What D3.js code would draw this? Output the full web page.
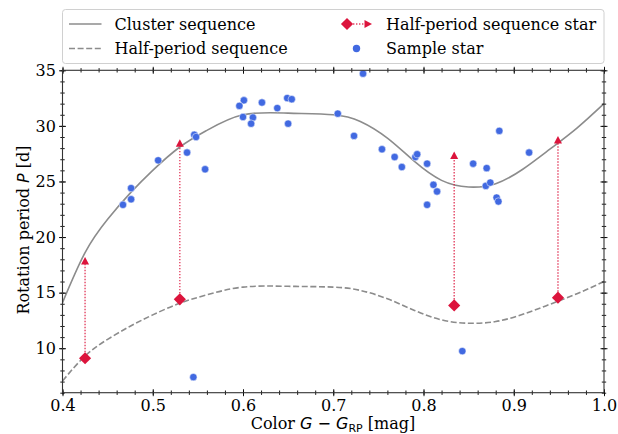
<!DOCTYPE html>
<html>
<head>
<meta charset="utf-8">
<title>Rotation period vs colour</title>
<style>
body { margin: 0; background: #fff; }
text { font-family: "DejaVu Serif", serif; fill: #000; }
.math { font-family: "DejaVu Sans", sans-serif; }
</style>
</head>
<body>
<script src="https://d3js.org/d3.v7.min.js"></script>
<script>
// cluster sequence and its half-period twin
var seqColor = [0.40, 0.425, 0.45, 0.475, 0.50, 0.53, 0.56, 0.60, 0.65, 0.70, 0.73, 0.76, 0.79, 0.82, 0.85, 0.88, 0.91, 0.94, 0.97, 1.00];
var seqPeriod = [14.1, 18.6, 21.6, 23.95, 26.0, 28.1, 29.6, 31.0, 31.15, 31.0, 30.4, 28.9, 26.8, 25.1, 24.5, 24.8, 26.1, 27.9, 29.8, 32.0];
var halfPeriod = [7.05, 9.3, 10.8, 11.98, 13.0, 14.05, 14.8, 15.5, 15.57, 15.5, 15.2, 14.45, 13.4, 12.55, 12.25, 12.4, 13.05, 13.95, 14.9, 16.0];

// half-period sequence stars: measured period and doubled period (arrow tip)
var hpColor = [0.425, 0.530, 0.834, 0.949];
var hpPeriod = [9.1, 14.4, 13.85, 14.55];
var hpDoubled = [18.2, 28.8, 27.7, 29.1];

// sample stars
var starColor = [0.546, 0.548, 0.538, 0.506, 0.558, 0.476, 0.476, 0.467,
  0.733, 0.601, 0.596, 0.621, 0.649, 0.654, 0.638, 0.600, 0.611, 0.609, 0.650, 0.705, 0.723,
  0.884, 0.754, 0.768, 0.776, 0.791, 0.793, 0.804, 0.811, 0.815, 0.804, 0.855, 0.870, 0.869,
  0.874, 0.881, 0.883, 0.917, 0.843, 0.545];
var starPeriod = [29.2, 29.0, 27.6, 26.9, 26.1, 24.4, 23.4, 22.9,
  34.7, 32.3, 31.8, 32.1, 32.5, 32.4, 31.6, 30.8, 30.75, 30.2, 30.2, 31.1, 29.1,
  29.55, 27.9, 27.2, 26.3, 27.2, 27.45, 26.6, 24.7, 24.1, 22.9, 26.6, 26.2, 24.6,
  24.9, 23.55, 23.2, 27.6, 9.74, 7.4];

var xMajor = [0.4, 0.5, 0.6, 0.7, 0.8, 0.9, 1.0];
var yMajor = [10, 15, 20, 25, 30, 35];

var width = 618, height = 434;
var pLeft = 62.5, pRight = 604, pTop = 70.3, pBottom = 392.7;
var red = "#dc143c", blue = "#4169e1", grey = "#8c8c8c";
var fs = "16px";

var x = d3.scaleLinear().domain([0.4, 1.0]).range([pLeft, pRight]);
var y = d3.scaleLinear().domain([6, 35]).range([pBottom, pTop]);

var svg = d3.select("body").append("svg")
  .attr("width", width)
  .attr("height", height);

svg.append("clipPath").attr("id", "clip")
  .append("rect")
  .attr("x", pLeft).attr("y", pTop)
  .attr("width", pRight - pLeft).attr("height", pBottom - pTop);

var plot = svg.append("g").attr("clip-path", "url(#clip)");

var line = d3.line().curve(d3.curveNatural);

plot.append("path")
  .attr("d", line(seqColor.map(function(c, i) { return [x(c), y(seqPeriod[i])]; })))
  .attr("fill", "none").attr("stroke", grey).attr("stroke-width", 1.6);

plot.append("path")
  .attr("d", line(seqColor.map(function(c, i) { return [x(c), y(halfPeriod[i])]; })))
  .attr("fill", "none").attr("stroke", grey).attr("stroke-width", 1.6)
  .attr("stroke-dasharray", "6,2.6");

// arrows from half-period stars up to the doubled period
hpColor.forEach(function(c, i) {
  var px = x(c), tip = y(hpDoubled[i]);
  plot.append("line")
    .attr("x1", px).attr("x2", px)
    .attr("y1", y(hpPeriod[i])).attr("y2", tip + 6)
    .attr("stroke", red).attr("stroke-opacity", 0.8)
    .attr("stroke-width", 1.4).attr("stroke-dasharray", "1.4,1.6");
  plot.append("path")
    .attr("d", "M" + px + "," + tip + "L" + (px + 4) + "," + (tip + 7.5) + "L" + (px - 4) + "," + (tip + 7.5) + "Z")
    .attr("fill", red);
});

plot.selectAll(".star")
  .data(starColor)
  .enter().append("circle")
  .attr("class", "star")
  .attr("cx", function(d) { return x(d); })
  .attr("cy", function(d, i) { return y(starPeriod[i]); })
  .attr("r", 3.7)
  .attr("fill", blue)
  .attr("stroke", "#fff").attr("stroke-width", 0.5);

plot.selectAll(".hp")
  .data(hpColor)
  .enter().append("path")
  .attr("class", "hp")
  .attr("d", d3.symbol().type(d3.symbolSquare).size(74))
  .attr("transform", function(d, i) { return "translate(" + x(d) + "," + y(hpPeriod[i]) + ") rotate(45)"; })
  .attr("fill", red);

// axes, ticks poking both in and out
function styleTicks(g, inner, outer, attr, dir) {
  g.select(".domain").remove();
  g.selectAll(".tick line").attr(attr + "1", -inner * dir).attr(attr + "2", outer * dir);
}
var xMinor = d3.range(0.4, 1.001, 0.02);
var yMinor = d3.range(6, 35.01, 1);

function addAxis(axisFn, scale, major, minor, transform, attr, dir, fmt) {
  svg.append("g").attr("transform", transform)
    .call(axisFn(scale).tickValues(minor).tickFormat(""))
    .call(function(g) { styleTicks(g, 2.2, 2.2, attr, dir); });
  var g = svg.append("g").attr("transform", transform)
    .call(axisFn(scale).tickValues(major).tickSize(3.5).tickPadding(3.2)
      .tickFormat(fmt ? d3.format(fmt) : ""))
    .call(function(g) { styleTicks(g, 3.5, 3.5, attr, dir); });
  g.selectAll("text").style("font-family", "DejaVu Serif").style("font-size", fs).attr("fill", "#000");
  return g;
}
addAxis(d3.axisBottom, x, xMajor, xMinor, "translate(0," + pBottom + ")", "y", 1, ".1f");
addAxis(d3.axisTop, x, xMajor, xMinor, "translate(0," + pTop + ")", "y", -1, null);
addAxis(d3.axisLeft, y, yMajor, yMinor, "translate(" + pLeft + ",0)", "x", -1, "d");
addAxis(d3.axisRight, y, yMajor, yMinor, "translate(" + pRight + ",0)", "x", 1, null);

svg.selectAll(".tick line").attr("stroke", "#000").attr("stroke-width", 0.9);

svg.append("rect")
  .attr("x", pLeft).attr("y", pTop)
  .attr("width", pRight - pLeft).attr("height", pBottom - pTop)
  .attr("fill", "none").attr("stroke", "#333").attr("stroke-width", 1.1);

// axis labels
var xl = svg.append("text")
  .attr("x", 333).attr("y", 429).attr("text-anchor", "middle")
  .style("font-size", fs);
xl.append("tspan").text("Color ");
xl.append("tspan").attr("class", "math").style("font-style", "italic").text("G");
xl.append("tspan").attr("class", "math").text(" \u2212 ");
xl.append("tspan").attr("class", "math").style("font-style", "italic").text("G");
xl.append("tspan").attr("class", "math").attr("dy", 2.5).style("font-size", "11px").text("RP");
xl.append("tspan").attr("dy", -2.5).text(" [mag]");

var yl = svg.append("text")
  .attr("transform", "translate(28.5,230) rotate(-90)")
  .attr("text-anchor", "middle")
  .style("font-size", fs);
yl.append("tspan").text("Rotation period ");
yl.append("tspan").attr("class", "math").style("font-style", "italic").text("P");
yl.append("tspan").text(" [d]");

// legend, spanning the axes width above the plot
var lg = svg.append("g");
lg.append("rect")
  .attr("x", pLeft).attr("y", 9.5).attr("width", pRight - pLeft).attr("height", 54)
  .attr("rx", 3).attr("fill", "#fff").attr("stroke", "#d0d0d0");

var row1 = 24, row2 = 48.5;
lg.append("line").attr("x1", 69).attr("x2", 101.5).attr("y1", row1).attr("y2", row1)
  .attr("stroke", grey).attr("stroke-width", 1.6);
lg.append("line").attr("x1", 69).attr("x2", 101.5).attr("y1", row2).attr("y2", row2)
  .attr("stroke", grey).attr("stroke-width", 1.6).attr("stroke-dasharray", "6,2.6");
lg.append("line").attr("x1", 350).attr("x2", 365).attr("y1", row1).attr("y2", row1)
  .attr("stroke", red).attr("stroke-opacity", 0.8).attr("stroke-width", 1.4).attr("stroke-dasharray", "1.4,1.6");
lg.append("path").attr("d", "M372," + row1 + "L364.5," + (row1 - 4) + "L364.5," + (row1 + 4) + "Z").attr("fill", red);
lg.append("path")
  .attr("d", d3.symbol().type(d3.symbolSquare).size(74))
  .attr("transform", "translate(347," + row1 + ") rotate(45)").attr("fill", red);
lg.append("circle").attr("cx", 356.5).attr("cy", row2).attr("r", 3.7).attr("fill", blue);

var legendText = [["Cluster sequence", 114.5, row1 + 5.8], ["Half-period sequence", 114.5, row2 + 5.8],
  ["Half-period sequence star", 386, row1 + 5.8], ["Sample star", 386, row2 + 5.8]];
lg.selectAll(".lt").data(legendText).enter().append("text")
  .attr("class", "lt")
  .attr("x", function(d) { return d[1]; })
  .attr("y", function(d) { return d[2]; })
  .style("font-size", fs)
  .text(function(d) { return d[0]; });
</script>
</body>
</html>
